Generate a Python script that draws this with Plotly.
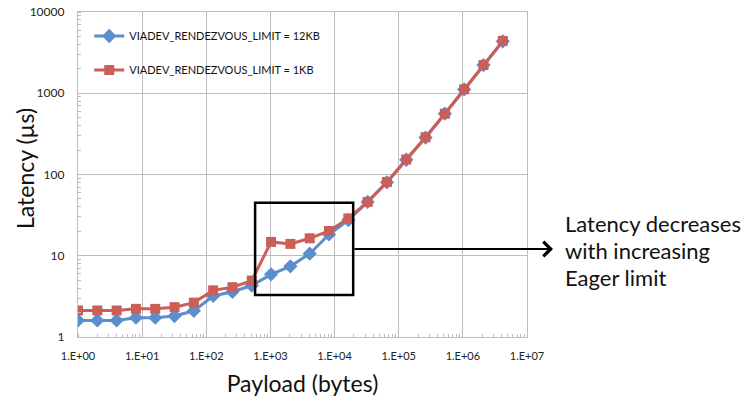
import plotly.graph_objects as go

payload = [2 ** i for i in range(23)]
lat_12kb = [1.6, 1.6, 1.6, 1.73, 1.73, 1.81, 2.1, 3.2, 3.6, 4.3, 5.9, 7.4, 10.6, 18.3, 27.5,
            46, 80, 152, 285, 560, 1115, 2220, 4350]
lat_1kb = [2.12, 2.12, 2.12, 2.22, 2.22, 2.33, 2.65, 3.75, 4.1, 4.95, 14.8, 14.0, 16.4, 20.2, 28.8,
           46, 81, 153, 287, 560, 1120, 2230, 4400]
x_tickvals = [1, 10, 100, 1000, 10000, 100000, 1000000, 10000000]
x_ticktext = ["1.E+00", "1.E+01", "1.E+02", "1.E+03", "1.E+04", "1.E+05", "1.E+06", "1.E+07"]
y_tickvals = [1, 10, 100, 1000, 10000]
y_ticktext = ["1", "10", "100", "1000", "10000"]
series_names = ["VIADEV_RENDEZVOUS_LIMIT = 12KB", "VIADEV_RENDEZVOUS_LIMIT = 1KB"]
box_x = [577, 19500]
box_y = [3.29, 45]
note_lines = ["Latency decreases", "with increasing", "Eager limit"]
x_title = "Payload (bytes)"
y_title = "Latency (µs)"

BLUE = "#5A8FCB"
RED = "#CB5F58"
GRID = "#BDBDBD"
FONT = "Lato, 'Liberation Sans', sans-serif"

L, R, T, B = 78, 527, 12, 337
PW, PH = R - L, B - T

fig = go.Figure()
fig.add_trace(go.Scatter(x=payload, y=lat_12kb, mode="lines+markers", name=series_names[0],
                         line=dict(color=BLUE, width=3),
                         marker=dict(symbol="diamond", size=11, color=BLUE),
                         legend="legend"))
fig.add_trace(go.Scatter(x=payload, y=lat_1kb, mode="lines+markers", name=series_names[1],
                         line=dict(color=RED, width=3),
                         marker=dict(symbol="square", size=10, color=RED),
                         legend="legend2"))

fig.add_shape(type="rect", xref="x", yref="y", x0=box_x[0], x1=box_x[1], y0=box_y[0], y1=box_y[1],
              line=dict(color="black", width=2.5))

# arrow from box edge to the note
fig.add_annotation(xref="paper", yref="paper", x=(553 - L) / PW, y=(B - 249) / PH,
                   ax=-200, ay=0, axref="pixel", ayref="pixel", showarrow=True,
                   arrowhead=4, arrowsize=1.3, arrowwidth=2.2, arrowcolor="black", text="")
for i, line in enumerate(note_lines):
    fig.add_annotation(xref="paper", yref="paper", x=(563 - L) / PW, y=(B - (223 + 27 * i)) / PH,
                       xanchor="left", yanchor="middle", align="left", showarrow=False,
                       text=line, font=dict(family=FONT, size=22, color="#111111"))

# y-axis title placed as rotated text
fig.add_annotation(xref="paper", yref="paper", x=(25 - L) / PW, y=(B - 169) / PH,
                   xanchor="center", yanchor="middle", showarrow=False, textangle=-90,
                   text=y_title, font=dict(family=FONT, size=23, color="#111111"))

fig.update_xaxes(type="log", range=[0, 7], tickmode="array", tickvals=x_tickvals, ticktext=x_ticktext,
                 showgrid=True, gridcolor=GRID, gridwidth=1.3, showline=True, linecolor=GRID, linewidth=1.3,
                 ticks="", ticklabelstandoff=9, tickfont=dict(family=FONT, size=11, color="#222222"),
                 minor=dict(ticks="inside", ticklen=3, tickcolor=GRID, dtick="D1", showgrid=False),
                 title=dict(text=x_title, font=dict(family=FONT, size=23, color="#111111"), standoff=14),
                 mirror=True, zeroline=False, automargin=False)
fig.update_yaxes(type="log", range=[0, 4], tickmode="array", tickvals=y_tickvals, ticktext=y_ticktext,
                 showgrid=True, gridcolor=GRID, gridwidth=1.3, showline=True, linecolor=GRID, linewidth=1.3,
                 ticks="", ticklabelstandoff=10, tickfont=dict(family=FONT, size=12, color="#222222"),
                 minor=dict(ticks="inside", ticklen=3, tickcolor=GRID, dtick="D1", showgrid=False),
                 mirror=True, zeroline=False, automargin=False)

legend_common = dict(bgcolor="rgba(0,0,0,0)", font=dict(family=FONT, size=11, color="#111111"),
                     xanchor="left", yanchor="middle", itemwidth=30)
fig.update_layout(
    width=747, height=400,
    margin=dict(l=L, r=747 - R, t=T, b=400 - B),
    plot_bgcolor="white", paper_bgcolor="white",
    showlegend=True,
    legend=dict(x=0.025, y=(B - 36) / PH, **legend_common),
    legend2=dict(x=0.025, y=(B - 70) / PH, **legend_common),
)

fig.write_html("out.html")
